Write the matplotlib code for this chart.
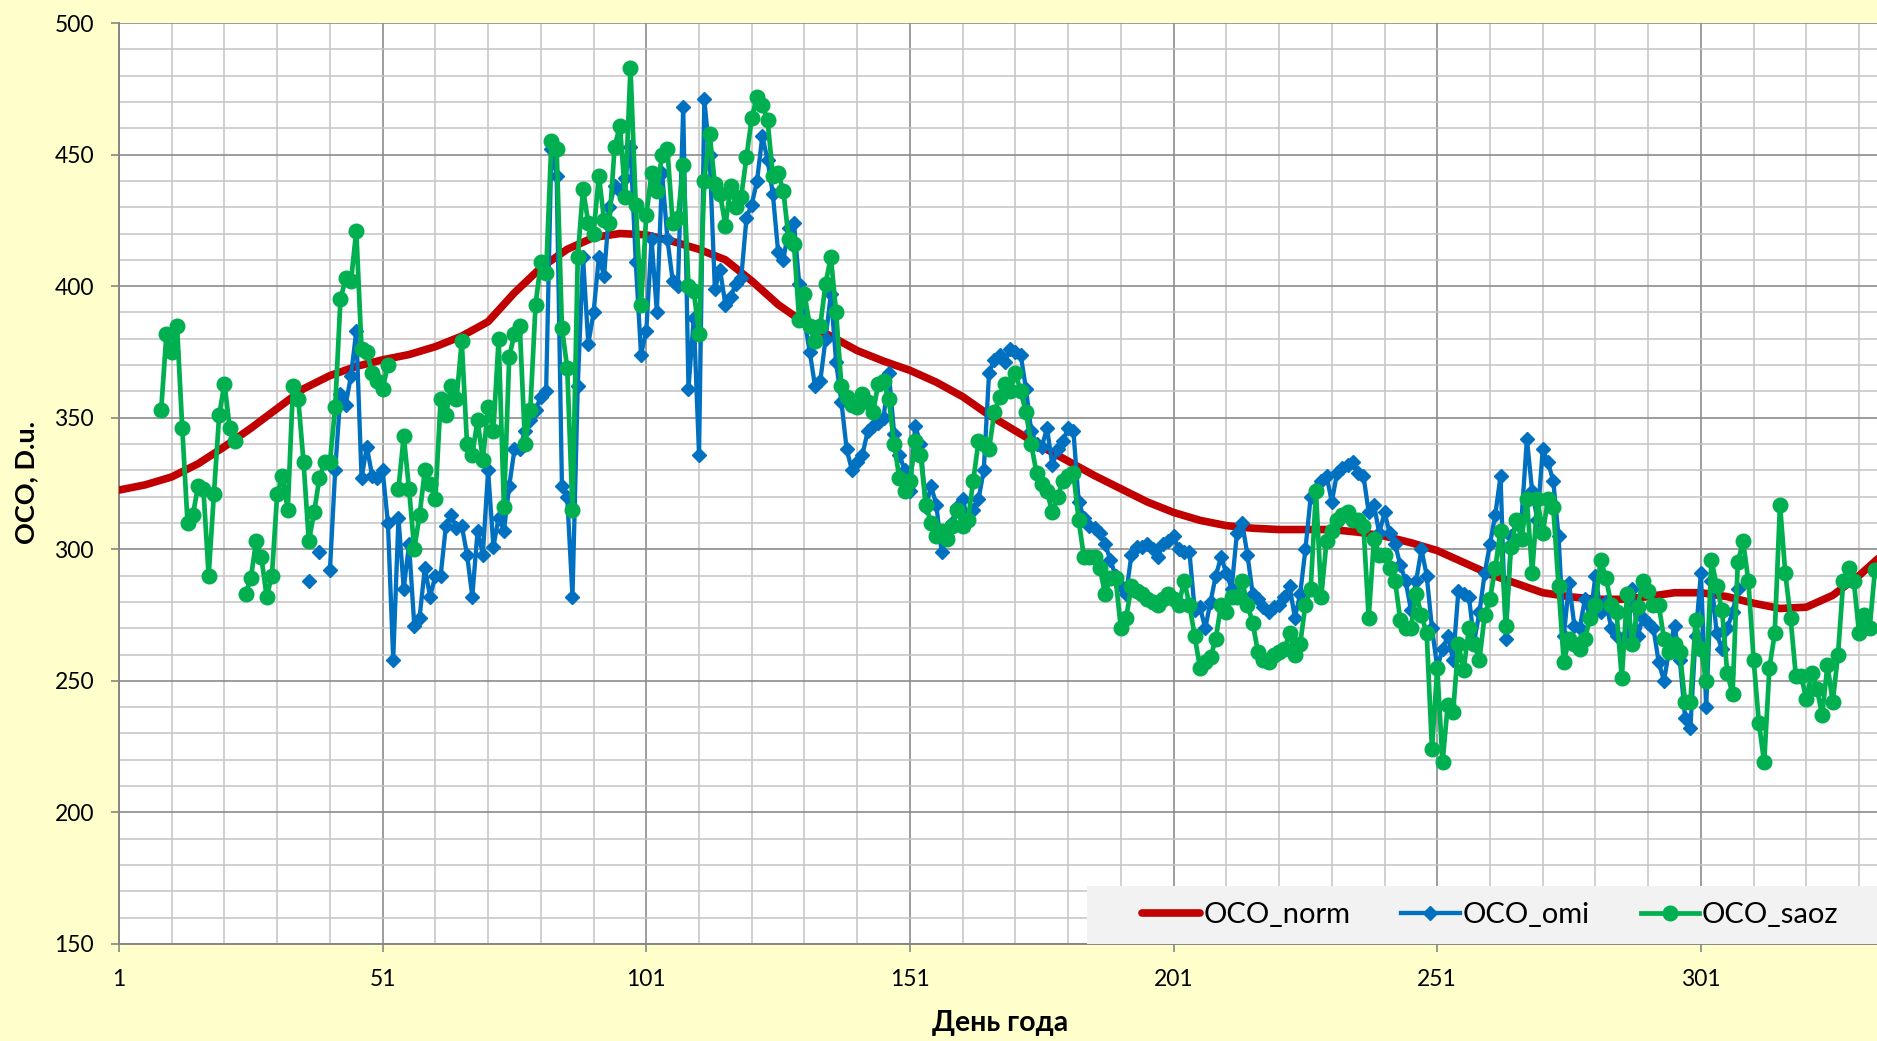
import numpy as np
import matplotlib
matplotlib.use("Agg")
import matplotlib.pyplot as plt
from matplotlib.patches import Rectangle
from matplotlib.ticker import FixedLocator, MultipleLocator

nan = np.nan

# ---------------- data ----------------
norm_days = list(range(1, 337, 5))
norm_vals = [322.5, 324.5, 327.5, 332.5, 339, 346, 353.5, 361, 366, 369.5,
             372, 374, 377, 381, 386.5, 397.5, 407, 414, 418.5, 420,
             419.5, 417, 414, 410, 402, 393, 386, 381, 375.5, 371.5,
             368, 363.5, 358, 351, 345, 339, 333.5, 328, 323, 318,
             314, 311, 309, 308, 307.5, 307.5, 307.5, 306.5, 305, 302.5,
             299.5, 295, 290.5, 287, 283.5, 282, 281, 281, 282, 283.5,
             283.5, 282, 279.5, 277.5, 278, 282.5, 290, 299]

saoz_first_day = 9
saoz_vals = [353, 382,
             375, 385, 346, 310, 313, 324, 323, 290, 321, 351,
             363, 346, 341, nan, 283, 289, 303, 297, 282, 290,
             321, 328, 315, 362, 357, 333, 303, 314, 327, 333,
             333, 354, 395, 403, 402, 421, 376, 375, 367, 364,
             361, 370, nan, 323, 343, 323, 300, 313, 330, 325,
             319, 357, 351, 362, 357, 379, 340, 336, 349, 334,
             354, 345, 380, 316, 373, 382, 385, 340, 353, 393,
             409, 405, 455, 452, 384, 369, 315, 411, 437, 424,
             420, 442, 425, 424, 453, 461, 434, 483, 431, 393,
             427, 443, 436, 450, 452, 424, 426, 446, 400, 398,
             382, 440, 458, 439, 435, 423, 438, 430, 434, 449,
             464, 472, 469, 463, 442, 443, 436, 418, 416, 387,
             397, 385, 379, 385, 401, 411, 390, 362, 358, 355,
             354, 359, 356, 352, 363, 364, 357, 340, 327, 322,
             326, 341, 336, 317, 310, 305, 307, 304, 309, 315,
             309, 311, 326, 341, 340, 338, 352, 358, 363, 360,
             367, 360, 352, 340, 329, 325, 322, 314, 320, 326,
             328, 329, 311, 297, 297, 297, 293, 283, 289, 289,
             270, 274, 286, 284, 283, 281, 280, 279, 281, 283,
             281, 279, 288, 279, 267, 255, 257, 259, 266, 279,
             276, 282, 282, 288, 279, 272, 261, 258, 257, 260,
             261, 262, 268, 260, 264, 279, 285, 322, 282, 303,
             307, 311, 313, 314, 311, 311, 309, 274, 304, 298,
             298, 293, 288, 273, 270, 270, 283, 275, 268, 224,
             255, 219, 241, 238, 264, 254, 270, 264, 258, 275,
             281, 293, 307, 271, 301, 311, 304, 319, 291, 319,
             306, 319, 316, 286, 257, 266, 264, 262, 266, 274,
             279, 296, 289, 279, 276, 251, 283, 264, 278, 288,
             284, 279, 279, 266, 261, 264, 261, 242, 242, 273,
             262, 250, 296, 286, 277, 253, 245, 295, 303, 288,
             258, 234, 219, 255, 268, 317, 291, 274, 252, 252,
             243, 253, 247, 237, 256, 242, 260, 288, 293, 288,
             268, 275, 270, 292]

omi_first_day = 37
omi_vals = [288, nan, 299, nan,
            292, 330, 359, 355, 366, 383, 327, 339, 328, 327,
            330, 310, 258, 312, 285, 302, 271, 274, 293, 282,
            290, 290, 309, 313, 308, 309, 298, 282, 307, 298,
            330, 301, 312, 307, 324, 338, 338, 345, 349, 353,
            358, 360, 452, 442, 324, 320, 282, 362, 411, 378,
            390, 411, 404, 430, 438, 436, 441, 453, 409, 374,
            383, 418, 390, 443, 418, 402, 400, 468, 361, 388,
            336, 471, 450, 399, 406, 393, 396, 401, 403, 426,
            431, 440, 457, 448, 435, 413, 410, 422, 424, 401,
            387, 375, 362, 364, 380, 397, 371, 356, 338, 330,
            333, 336, 345, 347, 348, 350, 367, 344, 336, 330,
            322, 347, 340, 316, 324, 317, 299, 305, 310, 316,
            319, 311, 315, 319, 330, 367, 372, 374, 371, 376,
            375, 374, 361, 345, 340, 339, 346, 332, 338, 341,
            346, 345, 318, 312, 309, 308, 306, 302, 296, 290,
            286, 283, 298, 301, 301, 302, 300, 297, 302, 303,
            305, 300, 299, 299, 277, 278, 270, 280, 290, 297,
            291, 285, 306, 310, 298, 283, 281, 278, 276, 278,
            279, 282, 286, 274, 283, 300, 320, 323, 326, 328,
            318, 329, 331, 332, 333, 329, 328, 314, 317, 306,
            314, 306, 302, 294, 288, 277, 288, 300, 290, 270,
            255, 262, 267, 258, 284, 283, 282, 265, 276, 291,
            302, 313, 328, 266, 305, 310, 312, 342, 322, 311,
            338, 333, 326, 305, 267, 287, 271, 270, 281, 274,
            290, 276, 280, 270, 267, 266, 265, 285, 267, 274,
            272, 270, 257, 250, 262, 271, 258, 236, 232, 267,
            291, 240, 288, 268, 262, 270, 276, 285]

series_names = ["ОСО_norm", "ОСО_omi", "ОСО_saoz"]
x_ticks = [1, 51, 101, 151, 201, 251, 301]
y_ticks = [150, 200, 250, 300, 350, 400, 450, 500]
x_label = "День года"
y_label = "ОСО, D.u."

# ---------------- figure ----------------
plt.rcParams["font.family"] = ["Lato", "Open Sans", "DejaVu Sans"]

W, H = 1877, 1041
fig = plt.figure(figsize=(W / 100, H / 100), dpi=100, facecolor="#FFFFCC")
L, R, T, B = 119, 1877, 23, 944
ax = fig.add_axes([L / W, 1 - B / H, (R - L) / W, (B - T) / H])
ax.set_facecolor("white")

saoz_days = np.arange(saoz_first_day, saoz_first_day + len(saoz_vals))
omi_days = np.arange(omi_first_day, omi_first_day + len(omi_vals))

l_norm, = ax.plot(norm_days, norm_vals, color="#C00000", lw=5.5,
                  solid_capstyle="round", zorder=3, label=series_names[0])
l_omi, = ax.plot(omi_days, np.array(omi_vals, float), color="#0070C0", lw=3.1,
                 marker="D", ms=7.5, mew=1, zorder=4, label=series_names[1])
l_saoz, = ax.plot(saoz_days, np.array(saoz_vals, float), color="#00B050", lw=3.4,
                  marker="o", ms=10.5, mew=1, zorder=5, label=series_names[2])

ax.set_xlim(1, 1 + (R - L) / 5.273)
ax.set_ylim(150, 500)

ax.xaxis.set_major_locator(FixedLocator(x_ticks))
ax.xaxis.set_minor_locator(MultipleLocator(10, offset=1))
ax.yaxis.set_major_locator(FixedLocator(y_ticks))
ax.yaxis.set_minor_locator(MultipleLocator(10))

ax.set_axisbelow(True)
ax.grid(which="minor", color="#C4C4C4", lw=1.1)
ax.grid(which="major", color="#8C8C8C", lw=1.2)

for s in ["top", "right"]:
    ax.spines[s].set_visible(False)
for s in ["left", "bottom"]:
    ax.spines[s].set_color("#868686")
    ax.spines[s].set_linewidth(1.4)

ax.tick_params(which="major", direction="out", length=6, width=1.2,
               color="#868686", labelsize=16.5, pad=12, labelcolor="black")
ax.tick_params(which="minor", length=0)

fig.text(26 / W, 1 - 482 / H, y_label, rotation=90, ha="center", va="center",
         fontsize=19.5, fontweight="bold")
fig.text(1000 / W, 1 - 1023 / H, x_label, ha="center", va="center",
         fontsize=20.5, fontweight="bold")

# legend background band
ax.add_patch(Rectangle(((1087 - L) / (R - L), 0), 0.6, (B - 886) / (B - T),
                       transform=ax.transAxes, facecolor="#F2F2F2",
                       edgecolor="none", zorder=9))
leg = ax.legend(handles=[l_norm, l_omi, l_saoz], loc="center left",
                bbox_to_anchor=((1142 - L) / (R - L), (B - 915) / (B - T)),
                ncol=3, frameon=False, fontsize=21, handlelength=2.0,
                handletextpad=0.1, columnspacing=1.75, borderpad=0,
                borderaxespad=0, numpoints=1)
leg.set_zorder(10)

fig.savefig("out.png", dpi=100, facecolor=fig.get_facecolor())
